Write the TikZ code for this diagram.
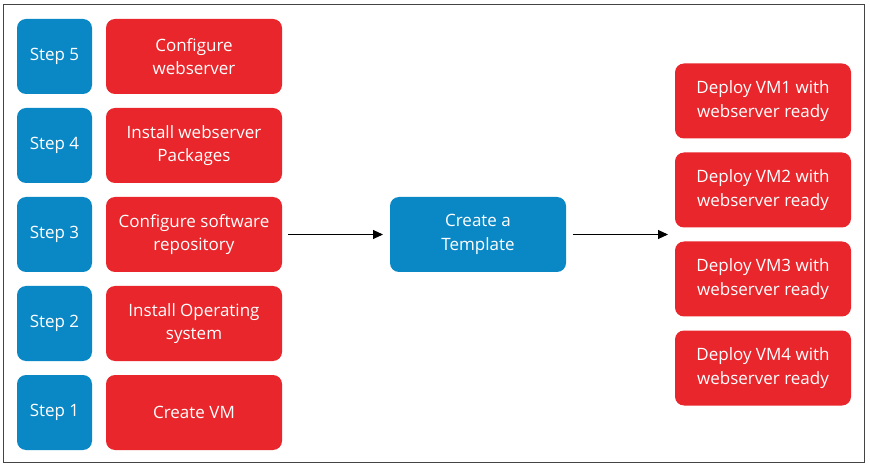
\documentclass[tikz,border=0pt]{standalone}
\usepackage{fontspec}
\setmainfont{Open Sans}
\usetikzlibrary{arrows.meta}
\definecolor{stepblue}{HTML}{0A87C5}
\definecolor{boxred}{HTML}{E8262B}
\definecolor{framegray}{HTML}{444444}
\begin{document}
\begin{tikzpicture}[x=1pt,y=-1pt,
  box/.style={rounded corners=9pt,inner sep=0pt,text=white,align=center,
    font=\fontsize{17}{23.5}\selectfont},
  stepbox/.style={box,fill=stepblue,minimum width=75pt,minimum height=75pt},
  redbox/.style={box,fill=boxred,minimum width=176pt,minimum height=75pt},
  conn/.style={-{Triangle[length=10pt,width=9pt]},line width=0.9pt}]
\useasboundingbox (0,0) rectangle (870,470);
\draw[framegray,line width=1pt] (3,5) rectangle (864,462);
\foreach \n/\y/\t in {5/56.5/{Configure\\webserver},4/145.5/{Install webserver\\Packages},3/234.5/{Configure software\\repository},2/323.5/{Install Operating\\system},1/412.5/{Create VM}}{
  \node[stepbox] (s\n) at (54.5,\y) {Step \n};
  \node[redbox] (r\n) at (194,\y) {\t};
}
\node[box,fill=stepblue,minimum width=176pt,minimum height=75pt] (tpl) at (478,234.5) {Create a\\Template};
\foreach \n/\y in {1/101,2/190,3/279,4/368}{
  \node[redbox] (d\n) at (763,\y) {Deploy VM\n{} with\\webserver ready};
}
\coordinate (a1) at (383,234.5);
\coordinate (a2) at (668,234.5);
\draw[conn] ([xshift=6pt]r3.east) -- (a1);
\draw[conn] ([xshift=7pt]tpl.east) -- (a2);
\end{tikzpicture}
\end{document}
